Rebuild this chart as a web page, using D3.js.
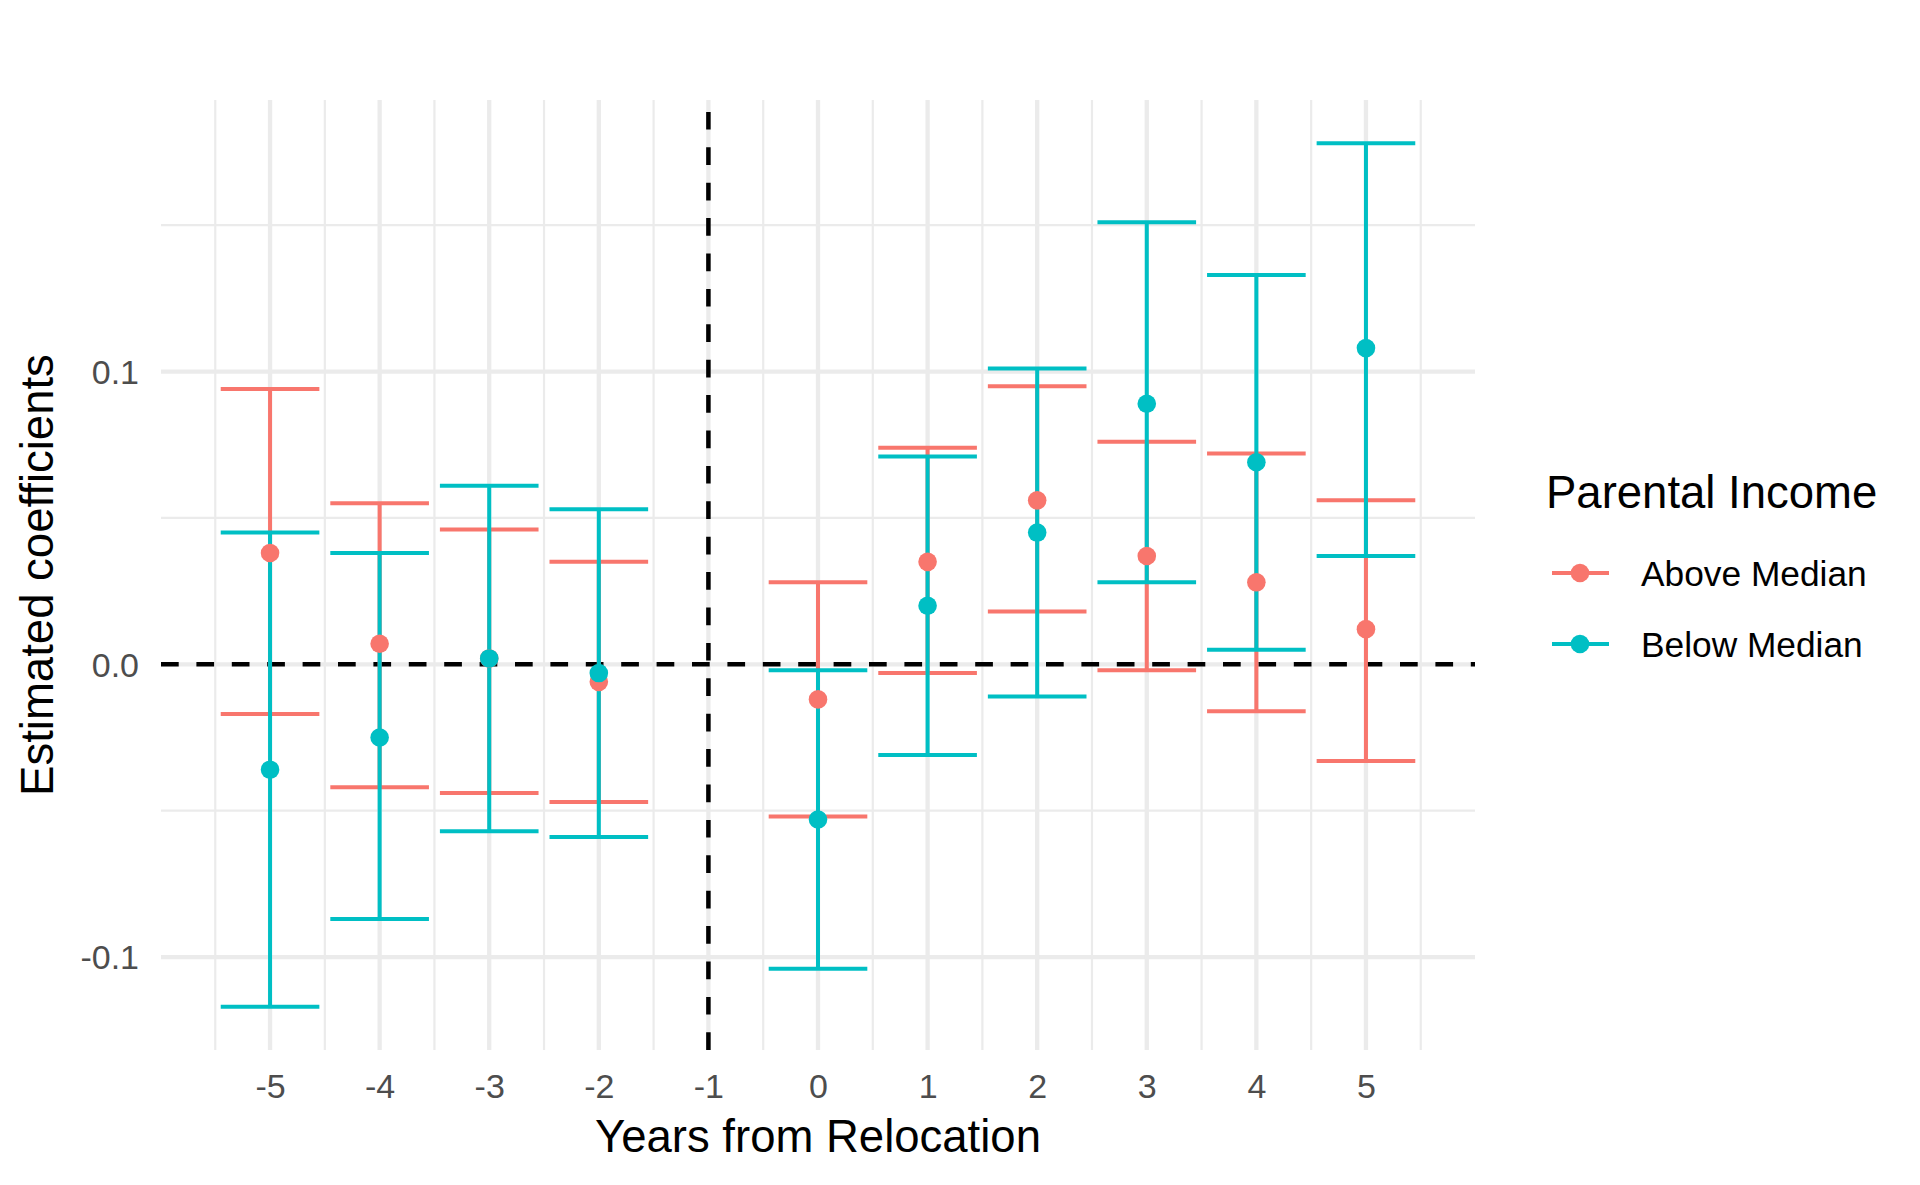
<!DOCTYPE html>
<html>
<head>
<meta charset="utf-8">
<script src="https://cdn.jsdelivr.net/npm/d3@7"></script>
<style>
  html, body { margin: 0; padding: 0; background: #fff; }
  svg { display: block; font-family: "Liberation Sans", Arial, Helvetica, sans-serif; }
</style>
</head>
<body>
<svg id="chart" width="1920" height="1185"></svg>
<script>
// ---- data ----
const years = [-5, -4, -3, -2, 0, 1, 2, 3, 4, 5];
const groups = ["Above Median", "Below Median"];
const aboveEst = [0.038, 0.007, 0.002, -0.006, -0.012, 0.035, 0.056, 0.037, 0.028, 0.012];
const aboveLo  = [-0.017, -0.042, -0.044, -0.047, -0.052, -0.003, 0.018, -0.002, -0.016, -0.033];
const aboveHi  = [0.094, 0.055, 0.046, 0.035, 0.028, 0.074, 0.095, 0.076, 0.072, 0.056];
const belowEst = [-0.036, -0.025, 0.002, -0.003, -0.053, 0.020, 0.045, 0.089, 0.069, 0.108];
const belowLo  = [-0.117, -0.087, -0.057, -0.059, -0.104, -0.031, -0.011, 0.028, 0.005, 0.037];
const belowHi  = [0.045, 0.038, 0.061, 0.053, -0.002, 0.071, 0.101, 0.151, 0.133, 0.178];
const xTicks = [-5, -4, -3, -2, -1, 0, 1, 2, 3, 4, 5];
const xMinor = [-5.5, -4.5, -3.5, -2.5, -1.5, -0.5, 0.5, 1.5, 2.5, 3.5, 4.5, 5.5];
const yTicks = [-0.1, 0.0, 0.1];
const yMinor = [-0.05, 0.05, 0.15];
const eventYear = -1;
const colors = ["#F8766D", "#00BFC4"];

// ---- layout ----
const panel = { left: 161, right: 1475, top: 100, bottom: 1050 };
const capWidth = 0.9;

const series = [
  { name: groups[0], color: colors[0], est: aboveEst, lo: aboveLo, hi: aboveHi },
  { name: groups[1], color: colors[1], est: belowEst, lo: belowLo, hi: belowHi }
];
const rows = [];
series.forEach(s => years.forEach((yr, i) => rows.push({ g: s.name, color: s.color, x: yr, est: s.est[i], lo: s.lo[i], hi: s.hi[i] })));

const xLo = d3.min(years) - capWidth / 2, xHi = d3.max(years) + capWidth / 2;
const xPad = (xHi - xLo) * 0.05;
const yLoV = d3.min(rows, d => d.lo), yHiV = d3.max(rows, d => d.hi);
const yPad = (yHiV - yLoV) * 0.05;

const x = d3.scaleLinear().domain([xLo - xPad, xHi + xPad]).range([panel.left, panel.right]);
const y = d3.scaleLinear().domain([yLoV - yPad, yHiV + yPad]).range([panel.bottom, panel.top]);

const svg = d3.select("#chart");
const gridColor = "#EBEBEB";

// grid
const grid = svg.append("g");
grid.selectAll(".ymin").data(yMinor).join("line")
  .attr("x1", panel.left).attr("x2", panel.right)
  .attr("y1", d => y(d)).attr("y2", d => y(d))
  .attr("stroke", gridColor).attr("stroke-width", 2.2);
grid.selectAll(".xmin").data(xMinor).join("line")
  .attr("x1", d => x(d)).attr("x2", d => x(d))
  .attr("y1", panel.top).attr("y2", panel.bottom)
  .attr("stroke", gridColor).attr("stroke-width", 2.2);
grid.selectAll(".ymaj").data(yTicks).join("line")
  .attr("x1", panel.left).attr("x2", panel.right)
  .attr("y1", d => y(d)).attr("y2", d => y(d))
  .attr("stroke", gridColor).attr("stroke-width", 4.3);
grid.selectAll(".xmaj").data(xTicks).join("line")
  .attr("x1", d => x(d)).attr("x2", d => x(d))
  .attr("y1", panel.top).attr("y2", panel.bottom)
  .attr("stroke", gridColor).attr("stroke-width", 4.3);

// reference lines
svg.append("line")
  .attr("x1", panel.left).attr("x2", panel.right)
  .attr("y1", y(0)).attr("y2", y(0))
  .attr("stroke", "#000").attr("stroke-width", 4.5)
  .attr("stroke-dasharray", "17.7,17.7");
svg.append("line")
  .attr("x1", x(eventYear)).attr("x2", x(eventYear))
  .attr("y1", panel.bottom).attr("y2", panel.top)
  .attr("stroke", "#000").attr("stroke-width", 4.5)
  .attr("stroke-dasharray", "17.7,17.7");

// error bars
const eb = svg.append("g");
series.forEach(s => {
  const g = eb.append("g").attr("stroke", s.color).attr("stroke-width", 4).attr("fill", "none");
  const data = rows.filter(r => r.g === s.name);
  g.selectAll(".v").data(data).join("line")
    .attr("x1", d => x(d.x)).attr("x2", d => x(d.x))
    .attr("y1", d => y(d.lo)).attr("y2", d => y(d.hi));
  g.selectAll(".ct").data(data).join("line")
    .attr("x1", d => x(d.x - capWidth / 2)).attr("x2", d => x(d.x + capWidth / 2))
    .attr("y1", d => y(d.hi)).attr("y2", d => y(d.hi));
  g.selectAll(".cb").data(data).join("line")
    .attr("x1", d => x(d.x - capWidth / 2)).attr("x2", d => x(d.x + capWidth / 2))
    .attr("y1", d => y(d.lo)).attr("y2", d => y(d.lo));
});

// points
const pts = svg.append("g");
series.forEach(s => {
  pts.append("g").selectAll("circle").data(rows.filter(r => r.g === s.name)).join("circle")
    .attr("cx", d => x(d.x)).attr("cy", d => y(d.est)).attr("r", 9.3)
    .attr("fill", s.color);
});

// axes (labels only), ASCII hyphen for minus as in the reference
const hy = s => s.replace("\u2212", "-");
const xAxis = svg.append("g").attr("transform", `translate(0,${panel.bottom})`)
  .call(d3.axisBottom(x).tickValues(xTicks).tickFormat(d => hy(String(d))).tickSize(0).tickPadding(48));
xAxis.select(".domain").remove();
xAxis.selectAll("text").attr("font-size", 34).attr("fill", "#4D4D4D")
  .attr("font-family", "'Liberation Sans', Arial, sans-serif").attr("dy", 0);

const f1 = d3.format(".1f");
const yAxis = svg.append("g").attr("transform", `translate(${panel.left},0)`)
  .call(d3.axisLeft(y).tickValues(yTicks).tickFormat(d => hy(f1(d))).tickSize(0).tickPadding(22));
yAxis.select(".domain").remove();
yAxis.selectAll("text").attr("font-size", 34).attr("fill", "#4D4D4D")
  .attr("font-family", "'Liberation Sans', Arial, sans-serif").attr("dy", "0.35em");

// axis titles
svg.append("text")
  .attr("x", (panel.left + panel.right) / 2).attr("y", 1152)
  .attr("text-anchor", "middle").attr("font-size", 45.5).attr("fill", "#000")
  .text("Years from Relocation");
svg.append("text")
  .attr("transform", `translate(53,${(panel.top + panel.bottom) / 2}) rotate(-90)`)
  .attr("text-anchor", "middle").attr("font-size", 45.5).attr("fill", "#000")
  .text("Estimated coefficients");

// legend
const leg = svg.append("g");
leg.append("text").attr("x", 1546).attr("y", 508)
  .attr("font-size", 45.5).attr("fill", "#000").text("Parental Income");
const keyY = [573, 644];
series.forEach((s, i) => {
  const k = leg.append("g");
  k.append("line").attr("x1", 1552).attr("x2", 1609).attr("y1", keyY[i]).attr("y2", keyY[i])
    .attr("stroke", s.color).attr("stroke-width", 4);
  k.append("circle").attr("cx", 1580).attr("cy", keyY[i]).attr("r", 9.3).attr("fill", s.color);
  k.append("text").attr("x", 1641).attr("y", keyY[i] + 12.5)
    .attr("font-size", 35.3).attr("fill", "#000").text(s.name);
});
</script>
</body>
</html>
